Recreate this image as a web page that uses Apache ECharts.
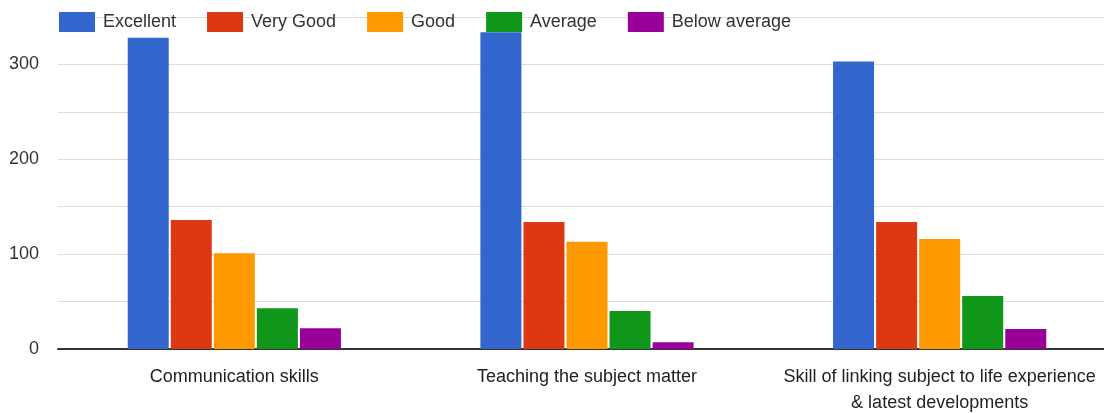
<!DOCTYPE html>
<html><head><meta charset="utf-8">
<script src="https://cdn.jsdelivr.net/npm/echarts@6/dist/echarts.min.js"></script>
<style>html,body{margin:0;padding:0;background:#fff}#c{width:1104px;height:413px}</style>
</head><body><div id="c"></div>
<script>
const categories = ["Communication skills", "Teaching the subject matter", "Skill of linking subject to life experience\n& latest developments"];
const seriesNames = ["Excellent", "Very Good", "Good", "Average", "Below average"];
const excellent = [328, 334, 303];
const veryGood = [136, 134, 134];
const good = [101, 113, 116];
const average = [43, 40, 56];
const belowAverage = [22, 7, 21];
const yTicks = [0, 100, 200, 300];
const colors = ["#3366cc", "#dc3912", "#ff9900", "#109618", "#990099"];
const values = [excellent, veryGood, good, average, belowAverage];

const chart = echarts.init(document.getElementById('c'));
chart.setOption({
  animation: false,
  textStyle: {fontFamily: 'Liberation Sans, Arial, sans-serif'},
  legend: {
    left: 59, top: 12, padding: 0, itemWidth: 36, itemHeight: 20, itemGap: 31,
    icon: 'rect',
    textStyle: {fontSize: 18, color: '#333', padding: [0, 0, 0, 3]},
    data: seriesNames
  },
  grid: {left: 58, right: -12, top: 17, bottom: 64, containLabel: false, outerBoundsMode: 'none'},
  xAxis: {
    type: 'category', data: categories,
    axisLine: {lineStyle: {color: '#333', width: 2}},
    axisTick: {show: false},
    axisLabel: {fontSize: 18, color: '#222', margin: 15, lineHeight: 26, interval: 0}
  },
  yAxis: {
    type: 'value', min: 0, max: 350, interval: 50,
    axisLine: {show: false}, axisTick: {show: false},
    splitLine: {lineStyle: {color: '#dcdcdc', width: 1}},
    axisLabel: {fontSize: 18, color: '#333', margin: 19,
      formatter: v => yTicks.includes(v) ? String(v) : ''}
  },
  series: seriesNames.map((n, i) => ({
    name: n, type: 'bar', data: values[i], barWidth: 41, barGap: '5%',
    itemStyle: {color: colors[i]}
  }))
});
</script></body></html>
